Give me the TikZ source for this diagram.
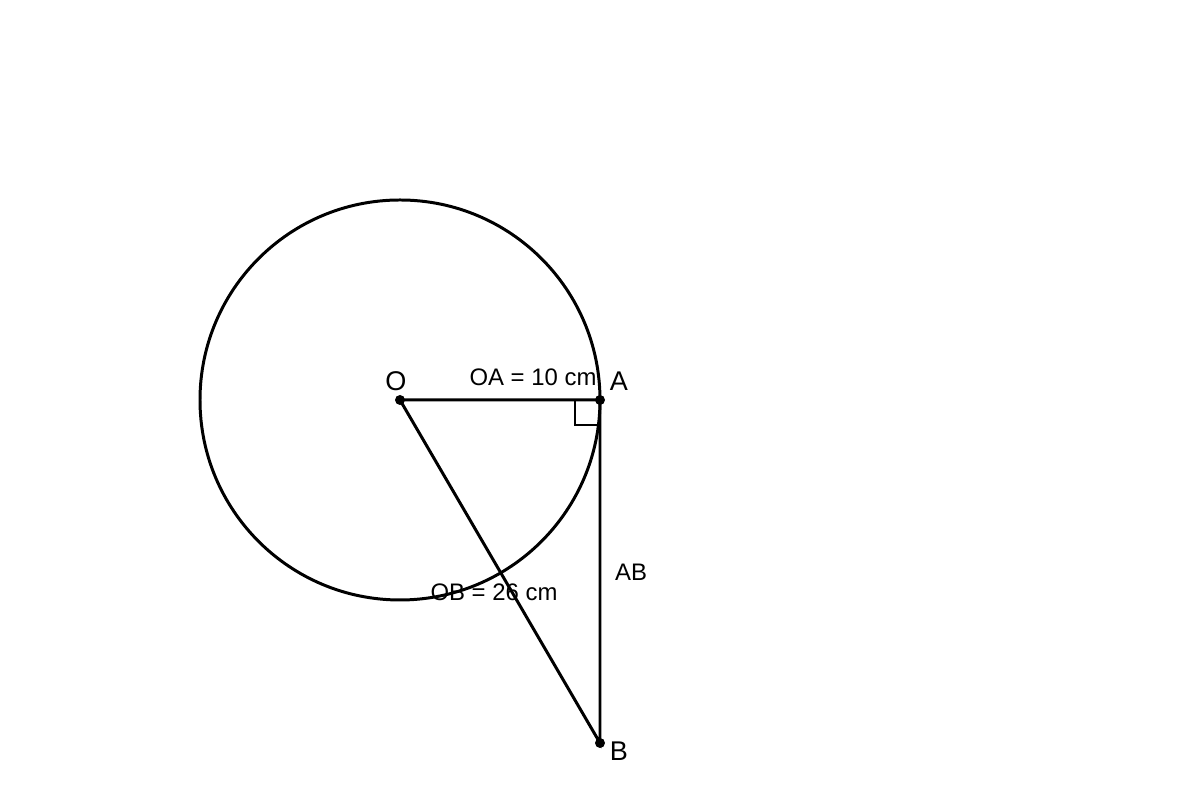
\documentclass[tikz,border=0pt]{standalone}
\usepackage{fontspec}
\setmainfont{Liberation Sans}
\begin{document}
\begin{tikzpicture}[line width=0.85pt,
    dot/.style={circle,fill,inner sep=0pt,minimum size=0.1cm},
    pname/.style={font=\fontsize{7.7}{9}\selectfont,inner sep=0pt},
    lengthlabel/.style={font=\fontsize{6.8}{8}\selectfont,inner sep=0pt}]
    \useasboundingbox (0,0) rectangle (12,8);
    \coordinate (O) at (4,4);
    \coordinate (A) at (6,4);
    \coordinate (B) at (6,0.57);
    \draw (O) circle (2);
    \draw (O) -- (A) -- (B) -- cycle;
    \draw[line width=0.45pt] (5.75,4) -- (5.75,3.75) -- (6,3.75);
    \node[dot] (dO) at (O) {};
    \node[dot] (dA) at (A) {};
    \node[dot] (dB) at (B) {};
    \node[pname] (nO) at (3.96,4.19) {O};
    \node[pname] (nA) at (6.19,4.19) {A};
    \node[pname] (nB) at (6.19,0.49) {B};
    \node[lengthlabel] (lOA) at (5.33,4.23) {OA = 10 cm};
    \node[lengthlabel] (lAB) at (6.31,2.28) {AB};
    \node[lengthlabel] (lOB) at (4.94,2.08) {OB = 26 cm};
\end{tikzpicture}
\end{document}
